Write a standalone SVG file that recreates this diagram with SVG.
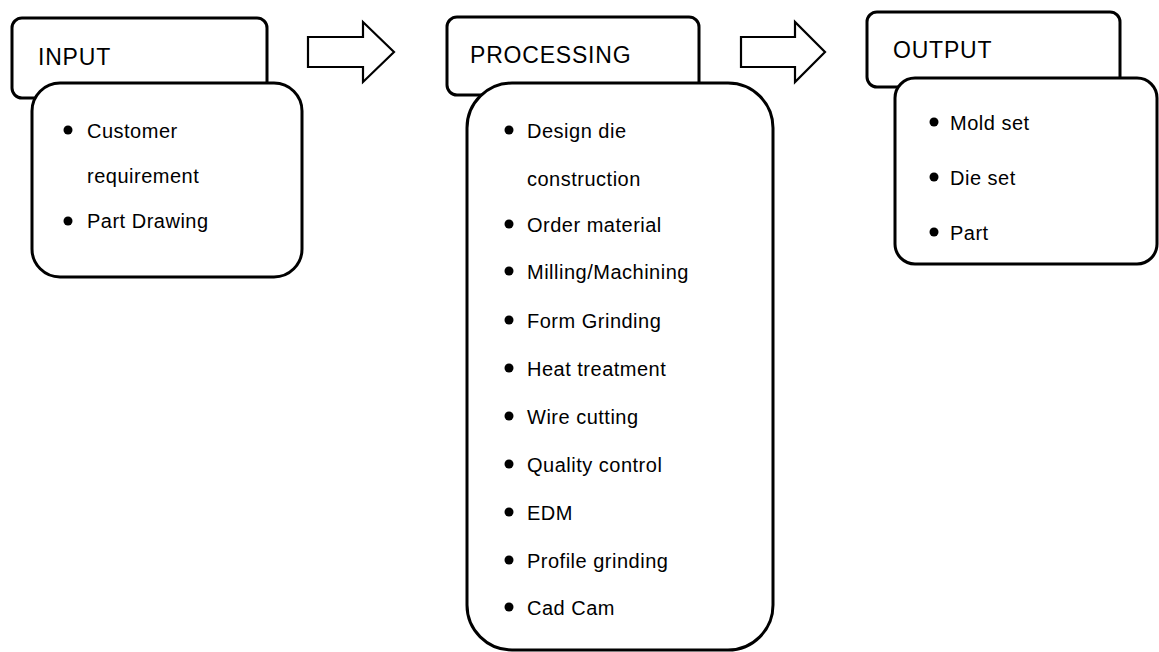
<svg xmlns="http://www.w3.org/2000/svg" width="1159" height="652" viewBox="0 0 1159 652">
<style>
.hdr{fill:#fff;stroke:#000;stroke-width:3}
.body{fill:#fff;stroke:#000;stroke-width:3}
.arrow{fill:#fff;stroke:#000;stroke-width:2.2;stroke-linejoin:miter}
.ht{font-family:"Liberation Sans",Arial,sans-serif;font-size:23px;letter-spacing:0.8px;fill:#000}
.it{font-family:"Liberation Sans",Arial,sans-serif;font-size:20px;letter-spacing:0.5px;fill:#000}
.bul{fill:#000}
</style>
<rect width="1159" height="652" fill="#fff"/>
<g id="connectors">
<polygon class="arrow" points="308,37 363,37 363,22 394,52 363,82 363,67 308,67"/>
<polygon class="arrow" points="741,37 795,37 795,22 825,52 795,82 795,67 741,67"/>
</g>
<g id="input">
<rect class="hdr" x="12" y="18" width="255" height="80" rx="10"/>
<text class="ht" x="38" y="65">INPUT</text>
<rect class="body" x="32" y="83" width="270" height="194" rx="28"/>
<circle class="bul" cx="68" cy="130" r="4.5"/>
<text class="it" x="87" y="138">Customer</text>
<text class="it" x="87" y="183">requirement</text>
<circle class="bul" cx="68" cy="221" r="4.5"/>
<text class="it" x="87" y="228">Part Drawing</text>
</g>
<g id="processing">
<rect class="hdr" x="447" y="17" width="252" height="78" rx="10"/>
<text class="ht" x="470" y="63">PROCESSING</text>
<rect class="body" x="467" y="83" width="306" height="567" rx="45"/>
<circle class="bul" cx="509" cy="130" r="4.5"/>
<text class="it" x="527" y="138">Design die</text>
<text class="it" x="527" y="186">construction</text>
<circle class="bul" cx="509" cy="224" r="4.5"/>
<text class="it" x="527" y="232">Order material</text>
<circle class="bul" cx="509" cy="271" r="4.5"/>
<text class="it" x="527" y="279">Milling/Machining</text>
<circle class="bul" cx="509" cy="320" r="4.5"/>
<text class="it" x="527" y="328">Form Grinding</text>
<circle class="bul" cx="509" cy="368" r="4.5"/>
<text class="it" x="527" y="376">Heat treatment</text>
<circle class="bul" cx="509" cy="416" r="4.5"/>
<text class="it" x="527" y="424">Wire cutting</text>
<circle class="bul" cx="509" cy="464" r="4.5"/>
<text class="it" x="527" y="472">Quality control</text>
<circle class="bul" cx="509" cy="512" r="4.5"/>
<text class="it" x="527" y="520">EDM</text>
<circle class="bul" cx="509" cy="560" r="4.5"/>
<text class="it" x="527" y="568">Profile grinding</text>
<circle class="bul" cx="509" cy="607" r="4.5"/>
<text class="it" x="527" y="615">Cad Cam</text>
</g>
<g id="output">
<rect class="hdr" x="867" y="12" width="253" height="75" rx="10"/>
<text class="ht" x="893" y="58">OUTPUT</text>
<rect class="body" x="895" y="78" width="262" height="186" rx="20"/>
<circle class="bul" cx="934" cy="122" r="4.5"/>
<text class="it" x="950" y="130">Mold set</text>
<circle class="bul" cx="934" cy="177" r="4.5"/>
<text class="it" x="950" y="185">Die set</text>
<circle class="bul" cx="934" cy="232" r="4.5"/>
<text class="it" x="950" y="240">Part</text>
</g>
</svg>
